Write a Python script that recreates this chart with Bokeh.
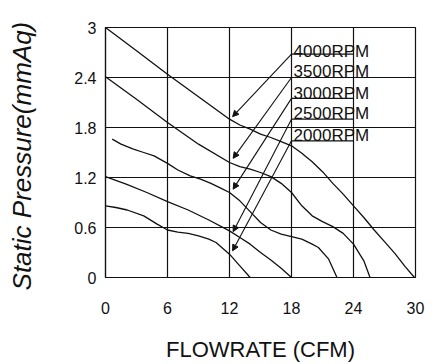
from bokeh.plotting import figure
from bokeh.models import Arrow, NormalHead, ColumnDataSource, Range1d, FixedTicker
from bokeh.embed import file_html
from bokeh.resources import INLINE
from bokeh.core.properties import value

# ---- data ----
x_ticks = [0, 6, 12, 18, 24, 30]
y_ticks = [0, 0.6, 1.2, 1.8, 2.4, 3]
x_tick_labels = ["0", "6", "12", "18", "24", "30"]
y_tick_labels = ["0", "0.6", "1.2", "1.8", "2.4", "3"]
x_title = "FLOWRATE (CFM)"
y_title = "Static  Pressure(mmAq)"

flow_4000 = [0, 3, 6, 9, 12, 13, 14, 15, 16, 17, 18, 19, 20, 21, 22, 23, 24, 25, 26, 27, 28, 29, 29.9]
pres_4000 = [3.0, 2.72, 2.44, 2.17, 1.90, 1.83, 1.78, 1.72, 1.68, 1.63, 1.58, 1.49, 1.39, 1.27, 1.13, 1.00, 0.86, 0.72, 0.57, 0.43, 0.29, 0.13, 0.0]

flow_3500 = [0, 3, 6, 9, 12, 13, 14, 15, 16, 17, 18, 19, 20, 21, 22, 23, 24, 25, 25.6]
pres_3500 = [2.41, 2.14, 1.86, 1.60, 1.38, 1.33, 1.30, 1.26, 1.21, 1.13, 1.02, 0.86, 0.74, 0.67, 0.61, 0.53, 0.40, 0.20, 0.0]

flow_3000 = [0.65, 1.5, 2.7, 3.7, 4.7, 6, 7, 8.2, 9.2, 10.2, 11.2, 12, 13, 14, 15, 16, 17, 18, 19, 20, 20.6, 21.6, 22.4]
pres_3000 = [1.66, 1.60, 1.54, 1.50, 1.46, 1.37, 1.29, 1.22, 1.18, 1.13, 1.07, 1.02, 0.92, 0.79, 0.66, 0.57, 0.52, 0.49, 0.46, 0.40, 0.36, 0.22, 0.0]

flow_2500 = [0, 2, 4, 6, 8, 10, 12, 13, 14, 15, 16, 17, 18]
pres_2500 = [1.21, 1.12, 1.02, 0.91, 0.81, 0.69, 0.56, 0.48, 0.40, 0.30, 0.21, 0.11, 0.0]

flow_2000 = [0, 1, 2.1, 3.7, 5, 6, 7, 8, 9, 10, 10.7, 12, 13, 14]
pres_2000 = [0.86, 0.84, 0.81, 0.74, 0.64, 0.57, 0.545, 0.53, 0.50, 0.46, 0.42, 0.28, 0.14, 0.0]

rpm_labels = ["4000RPM", "3500RPM", "3000RPM", "2500RPM", "2000RPM"]
label_line_y = [2.68, 2.40, 2.15, 1.90, 1.64]
label_text_y = [2.716, 2.476, 2.204, 1.964, 1.704]
label_box_x0 = [18, 18, 18, 18, 18]
label_box_x1 = [24, 24, 24, 24, 24]
label_text_x = [18.2, 18.2, 18.2, 18.2, 18.2]
arrow_tip_x = [12.3, 12.35, 12.35, 12.35, 12.3]
arrow_tip_y = [1.93, 1.43, 1.06, 0.55, 0.32]

FONT = "Liberation Sans"
INK = "#111111"

p = figure(width=440, height=364, x_range=Range1d(0, 30), y_range=Range1d(0, 3),
           output_backend="svg", toolbar_location=None,
           min_border_left=105, min_border_right=25, min_border_top=27, min_border_bottom=87)
p.background_fill_color = "white"
p.border_fill_color = "white"
p.outline_line_color = INK
p.outline_line_width = 1.2

# axes
p.xaxis.ticker = FixedTicker(ticks=x_ticks)
p.yaxis.ticker = FixedTicker(ticks=y_ticks)
p.xaxis.major_label_overrides = {t: s for t, s in zip(x_ticks, x_tick_labels)}
p.yaxis.major_label_overrides = {t: s for t, s in zip(y_ticks, y_tick_labels)}
for ax in (p.xaxis, p.yaxis):
    ax.major_tick_line_color = None
    ax.minor_tick_line_color = None
    ax.axis_line_color = INK
    ax.axis_line_width = 1.2
    ax.major_label_text_font = FONT
    ax.major_label_text_font_size = "16px"
    ax.major_label_text_color = INK
    ax.axis_label_text_font = FONT
    ax.axis_label_text_color = INK
p.xaxis.major_label_standoff = 18
p.xaxis.axis_label = x_title
p.xaxis.axis_label_text_font_size = "22px"
p.xaxis.axis_label_text_font_style = "normal"
p.xaxis.axis_label_standoff = 20

p.yaxis.major_label_standoff = 3
p.yaxis.axis_label = y_title
p.yaxis.axis_label_text_font_size = "26px"
p.yaxis.axis_label_text_font_style = "italic"
p.yaxis.axis_label_standoff = 34

# grid
p.xgrid.ticker = FixedTicker(ticks=x_ticks)
p.ygrid.ticker = FixedTicker(ticks=y_ticks)
for g in (p.xgrid, p.ygrid):
    g.grid_line_color = INK
    g.grid_line_width = 1.2
    g.grid_line_alpha = 1.0

# curves
for fx, fy in [(flow_4000, pres_4000), (flow_3500, pres_3500), (flow_3000, pres_3000),
               (flow_2500, pres_2500), (flow_2000, pres_2000)]:
    p.line(fx, fy, line_color=INK, line_width=1.3, line_join="round")

# label boxes
p.segment(x0=label_box_x0, y0=label_line_y, x1=label_box_x1, y1=label_line_y,
          line_color=INK, line_width=1.1)
p.text(x=label_text_x, y=label_text_y, text=rpm_labels, text_font=value(FONT),
       text_font_size="17px", text_color=INK, text_align="left", text_baseline="alphabetic")

# arrows
src = ColumnDataSource(dict(x0=label_box_x0, y0=label_line_y, x1=arrow_tip_x, y1=arrow_tip_y))
p.add_layout(Arrow(end=NormalHead(size=6, fill_color=INK, line_color=INK, line_width=1),
                   x_start="x0", y_start="y0", x_end="x1", y_end="y1", source=src,
                   line_color=INK, line_width=1.1))

open("out.html", "w").write(file_html(p, INLINE))
